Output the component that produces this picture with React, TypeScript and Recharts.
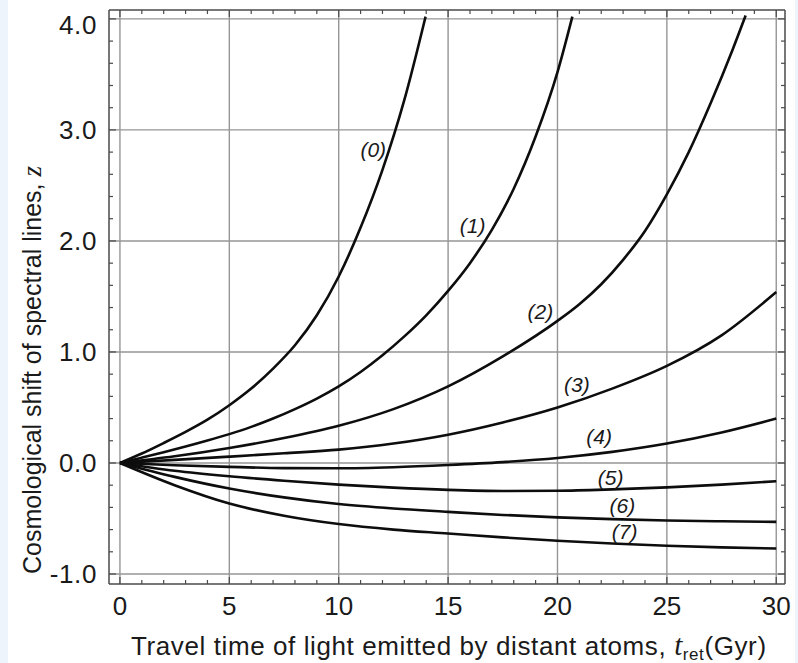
import React from "react";
import { LineChart, Line, XAxis, YAxis, ReferenceLine, ReferenceDot } from "recharts";

// shared time grid (Gyr) for the lower curves
const tGrid = [0, 2.5, 5, 7.5, 10, 12.5, 15, 17.5, 20, 22.5, 25, 27.5, 30];

// curves (0)-(2) run off the top, so they have their own time points
const t0 = [0, 1, 2, 3, 4, 5, 6, 7, 8, 9, 10, 11, 12, 13, 13.97];
const z0 = [0, 0.085, 0.18, 0.28, 0.39, 0.52, 0.67, 0.85, 1.06, 1.33, 1.68, 2.12, 2.64, 3.27, 4.02];

const t1 = [0, 1, 2, 3, 4, 5, 6, 7, 8, 9, 10, 11, 12, 13, 14, 15, 16, 17, 18, 19, 20, 20.68];
const z1 = [
  0, 0.048, 0.097, 0.148, 0.202, 0.26, 0.325, 0.4, 0.485, 0.58, 0.69, 0.82, 0.97, 1.14, 1.33,
  1.55, 1.8, 2.1, 2.47, 2.94, 3.52, 4.02,
];

const t2 = [0, 2.5, 5, 7.5, 10, 12.5, 15, 17.5, 20, 21, 22, 23, 24, 25, 26, 27, 28, 28.6];
const z2 = [0, 0.06, 0.135, 0.225, 0.335, 0.485, 0.69, 0.96, 1.28, 1.43, 1.61, 1.83, 2.09, 2.42, 2.8, 3.24, 3.72, 4.03];

const z3 = [0, 0.028, 0.057, 0.087, 0.12, 0.175, 0.255, 0.365, 0.5, 0.67, 0.875, 1.15, 1.54];
const z4 = [0, -0.02, -0.035, -0.046, -0.048, -0.038, -0.018, 0.008, 0.045, 0.1, 0.175, 0.275, 0.4];
const z5 = [0, -0.07, -0.12, -0.16, -0.195, -0.222, -0.242, -0.252, -0.25, -0.238, -0.22, -0.195, -0.165];
const z6 = [0, -0.125, -0.23, -0.31, -0.37, -0.41, -0.44, -0.468, -0.49, -0.506, -0.518, -0.525, -0.53];
const z7 = [0, -0.2, -0.365, -0.475, -0.55, -0.6, -0.635, -0.67, -0.7, -0.725, -0.745, -0.76, -0.77];

const curveNames = ["(0)", "(1)", "(2)", "(3)", "(4)", "(5)", "(6)", "(7)"];
const labelT = [11.58, 16.12, 19.22, 20.89, 21.9, 22.43, 22.97, 23.07];
const labelZ = [2.82, 2.14, 1.36, 0.71, 0.24, -0.13, -0.38, -0.62];

const xMajor = [0, 5, 10, 15, 20, 25, 30];
const yMajor = [-1, 0, 1, 2, 3, 4];
const xMinor = Array.from({ length: 31 }, (_, i) => i);
const yMinor = Array.from({ length: 26 }, (_, i) => Math.round((-1 + i * 0.2) * 10) / 10);

const toRows = (ts: number[], zs: number[]) => ts.map((t, i) => ({ t, z: zs[i] }));

const curves = [
  toRows(t0, z0),
  toRows(t1, z1),
  toRows(t2, z2),
  toRows(tGrid, z3),
  toRows(tGrid, z4),
  toRows(tGrid, z5),
  toRows(tGrid, z6),
  toRows(tGrid, z7),
];

const FONT = "Arial, 'Liberation Sans', Helvetica, sans-serif";
const SERIF = "'Times New Roman', 'Liberation Serif', 'DejaVu Serif', serif";
const TEXT = "#1a1a1a";
const FRAME = "#4a4a4a";
const GRID = "#969696";

const isMajorX = (v: number) => v % 5 === 0;
const isMajorY = (v: number) => Math.abs(v - Math.round(v)) < 1e-6;

const BottomTick = (props: any) => {
  const { x, y, payload } = props;
  const major = isMajorX(payload.value);
  return (
    <g>
      <line x1={x} x2={x} y1={y} y2={y - (major ? 7 : 4)} stroke={FRAME} strokeWidth={1.2} />
      {major && (
        <text x={x} y={y + 31} textAnchor="middle" fontSize={26} fontFamily={FONT} fill={TEXT}>
          {payload.value}
        </text>
      )}
    </g>
  );
};

const TopTick = (props: any) => {
  const { x, y, payload } = props;
  const major = isMajorX(payload.value);
  return <line x1={x} x2={x} y1={y} y2={y + (major ? 7 : 4)} stroke={FRAME} strokeWidth={1.2} />;
};

const LeftTick = (props: any) => {
  const { x, y, payload } = props;
  const major = isMajorY(payload.value);
  const shift = payload.value === 4 ? 6 : 0;
  return (
    <g>
      <line x1={x} x2={x + (major ? 7 : 4)} y1={y} y2={y} stroke={FRAME} strokeWidth={1.2} />
      {major && (
        <text
          x={x - 12}
          y={y + shift}
          dy="0.36em"
          textAnchor="end"
          fontSize={26}
          letterSpacing={0.6}
          fontFamily={FONT}
          fill={TEXT}
        >
          {payload.value.toFixed(1)}
        </text>
      )}
    </g>
  );
};

const RightTick = (props: any) => {
  const { x, y, payload } = props;
  const major = isMajorY(payload.value);
  return <line x1={x} x2={x - (major ? 7 : 4)} y1={y} y2={y} stroke={FRAME} strokeWidth={1.2} />;
};

export default function App() {
  return (
    <div style={{ position: "absolute", left: 0, top: 0, width: 798, height: 663, background: "#fff" }}>
      <div style={{ position: "absolute", left: 0, top: 0, width: 8, height: 663, background: "#eef4fb" }} />
      <div style={{ position: "absolute", left: 795, top: 0, width: 3, height: 663, background: "#eef4fb" }} />
      <LineChart
        width={798}
        height={663}
        margin={{ top: 9, right: 12, bottom: 39, left: 49 }}
        style={{ position: "absolute", left: 0, top: 0 }}
      >
        <XAxis
          xAxisId="x"
          type="number"
          dataKey="t"
          domain={[-0.5, 30.4]}
          allowDataOverflow
          ticks={xMinor}
          interval={0}
          height={40}
          tickSize={0}
          tickMargin={0}
          tickLine={false}
          tick={<BottomTick />}
          axisLine={{ stroke: FRAME, strokeWidth: 1.5 }}
        />
        <XAxis
          xAxisId="xt"
          orientation="top"
          type="number"
          dataKey="t"
          domain={[-0.5, 30.4]}
          allowDataOverflow
          ticks={xMinor}
          interval={0}
          height={1}
          tickSize={0}
          tickMargin={0}
          tickLine={false}
          tick={<TopTick />}
          axisLine={{ stroke: FRAME, strokeWidth: 1.5 }}
        />
        <YAxis
          yAxisId="y"
          type="number"
          domain={[-1.09, 4.08]}
          allowDataOverflow
          ticks={yMinor}
          interval={0}
          width={60}
          tickSize={0}
          tickMargin={0}
          tickLine={false}
          tick={<LeftTick />}
          axisLine={{ stroke: FRAME, strokeWidth: 1.5 }}
        />
        <YAxis
          yAxisId="yr"
          orientation="right"
          type="number"
          domain={[-1.09, 4.08]}
          allowDataOverflow
          ticks={yMinor}
          interval={0}
          width={1}
          tickSize={0}
          tickMargin={0}
          tickLine={false}
          tick={<RightTick />}
          axisLine={{ stroke: FRAME, strokeWidth: 1.5 }}
        />

        {xMajor.map((v) => (
          <ReferenceLine key={`gx${v}`} xAxisId="x" yAxisId="y" x={v} stroke={GRID} strokeWidth={1.4} />
        ))}
        {yMajor.map((v) => (
          <ReferenceLine key={`gy${v}`} xAxisId="x" yAxisId="y" y={v} stroke={GRID} strokeWidth={1.4} />
        ))}

        {curves.map((rows, i) => (
          <Line
            key={curveNames[i]}
            xAxisId="x"
            yAxisId="y"
            data={rows}
            dataKey="z"
            type="monotone"
            stroke="#0d0d0d"
            strokeWidth={2.6}
            dot={false}
            activeDot={false}
            isAnimationActive={false}
          />
        ))}

        {curveNames.map((name, i) => (
          <ReferenceDot
            key={`lbl${i}`}
            xAxisId="x"
            yAxisId="y"
            x={labelT[i]}
            y={labelZ[i]}
            r={0}
            fill="none"
            stroke="none"
            label={{
              value: name,
              position: "center",
              fontSize: 21,
              fontStyle: "italic",
              fontFamily: FONT,
              fill: TEXT,
            }}
          />
        ))}
      </LineChart>

      <svg
        width={798}
        height={663}
        style={{ position: "absolute", left: 0, top: 0, pointerEvents: "none" }}
      >
        <text
          transform="translate(32, 370) rotate(-90)"
          textAnchor="middle"
          dominantBaseline="central"
          fontSize={25}
          fontFamily={FONT}
          fill={TEXT}
        >
          Cosmological shift of spectral lines,{" "}
          <tspan fontFamily={SERIF} fontStyle="italic" fontSize={27}>
            z
          </tspan>
        </text>
        <text x={131} y={655} fontSize={26} letterSpacing={0.6} fontFamily={FONT} fill={TEXT}>
          Travel time of light emitted by distant atoms,{" "}
          <tspan fontFamily={SERIF} fontStyle="italic" fontSize={29}>
            t
          </tspan>
          <tspan fontSize={17} dy={5}>
            ret
          </tspan>
          <tspan dy={-5}>(Gyr)</tspan>
        </text>
      </svg>
    </div>
  );
}
